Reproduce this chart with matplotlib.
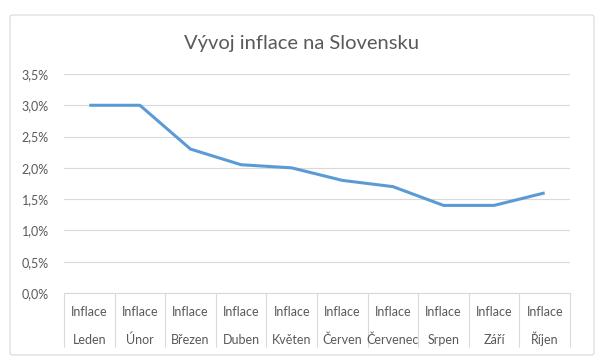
import matplotlib.pyplot as plt
from matplotlib.patches import FancyBboxPatch
from matplotlib.ticker import FuncFormatter

# data
months = ['Leden', 'Únor', 'Březen', 'Duben', 'Květen',
          'Červen', 'Červenec', 'Srpen', 'Září', 'Říjen']
inflation = [3.0, 3.0, 2.3, 2.05, 2.0, 1.8, 1.7, 1.4, 1.4, 1.6]
yticks = [0, 0.5, 1.0, 1.5, 2.0, 2.5, 3.0, 3.5]

text_col = '#595959'
grid_col = '#d9d9d9'
plt.rcParams['font.family'] = ['Lato', 'DejaVu Sans']

fig = plt.figure(figsize=(6, 3.59), dpi=100)
# outer chart frame
frame = FancyBboxPatch((10 / 600, 4 / 359), 584 / 600, 340 / 359,
                       boxstyle='round,pad=0,rounding_size=0.005',
                       transform=fig.transFigure, facecolor='white',
                       edgecolor=grid_col, linewidth=0.8, zorder=-5)
fig.patches.append(frame)

ax = fig.add_axes([64 / 600, 66 / 359, 506 / 600, 219 / 359])
ax.set_facecolor('none')
x = list(range(len(months)))
ax.plot(x, inflation, color='#5b9bd5', linewidth=2.2, solid_capstyle='butt', zorder=3)

ax.set_xlim(-0.5, len(months) - 0.5)
ax.set_ylim(0, 3.5)
ax.set_yticks(yticks)
ax.yaxis.set_major_formatter(FuncFormatter(lambda v, p: f'{v:.1f}%'.replace('.', ',')))
ax.grid(axis='y', color=grid_col, linewidth=0.8)
ax.set_axisbelow(True)

# category labels: two lines, placed by hand so accents don't shift rows
ax.set_xticks(x)
ax.set_xticklabels([])
trans = ax.get_xaxis_transform()
for i, m in enumerate(months):
    ax.text(i, -0.105, 'Inflace', transform=trans, ha='center', va='baseline',
            fontsize=9, color=text_col)
    ax.text(i, -0.232, m, transform=trans, ha='center', va='baseline',
            fontsize=9, color=text_col)
ax.set_xticks([i - 0.5 for i in range(len(months) + 1)], minor=True)
ax.tick_params(axis='x', which='major', length=0)
ax.tick_params(axis='x', which='minor', length=39, width=0.8, color=grid_col, direction='out')
ax.tick_params(axis='y', length=0, pad=11, labelsize=9, labelcolor=text_col)

for s in ['top', 'right', 'left']:
    ax.spines[s].set_visible(False)
ax.spines['bottom'].set_color(grid_col)
ax.spines['bottom'].set_linewidth(0.8)

fig.text(0.503, 1 - 43 / 359, 'Vývoj inflace na Slovensku', ha='center', va='center',
         fontsize=14.5, color=text_col)

fig.savefig('out.png', dpi=100)
